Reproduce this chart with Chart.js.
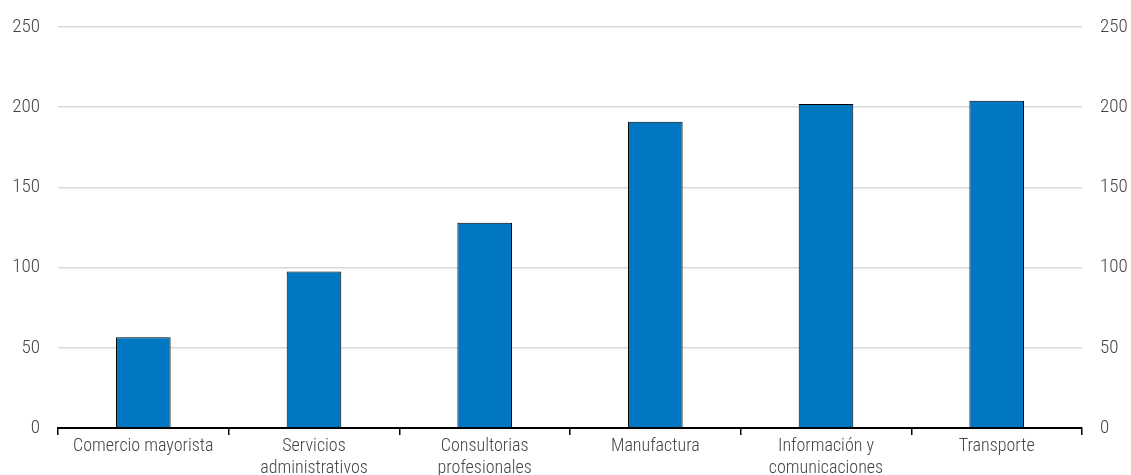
<!DOCTYPE html>
<html>
<head>
<meta charset="utf-8">
<script src="https://cdn.jsdelivr.net/npm/chart.js@4"></script>
<style>
  html, body { margin: 0; padding: 0; background: #fff; }
  #wrap { width: 1131px; height: 475px; position: relative; }
</style>
</head>
<body>
<div id="wrap"><canvas id="chart"></canvas></div>
<script>
// ── Data ─────────────────────────────────
const categories = [
  'Comercio mayorista',
  ['Servicios', 'administrativos'],
  ['Consultorias', 'profesionales'],
  'Manufactura',
  ['Información y', 'comunicaciones'],
  'Transporte',
];
const values = [56.5, 97.5, 128, 191, 202, 204];
const yTicks = [0, 50, 100, 150, 200, 250];

const FONT = "'Roboto Condensed', 'Liberation Sans Narrow', 'Arial Narrow', sans-serif";
const TEXT = '#444';

Chart.defaults.font.family = FONT;
Chart.defaults.font.size = 18;
Chart.defaults.font.weight = 300;
Chart.defaults.color = TEXT;

// fixed axis sizes so the plot area lines up with the reference
const fitY = width => axis => {
  axis.width = width;
  axis.paddingTop = 0;
  axis.paddingBottom = 0;
};

const yCommon = {
  min: 0,
  max: 250,
  afterBuildTicks: axis => { axis.ticks = yTicks.map(v => ({ value: v })); },
  border: { display: false },
  ticks: { padding: 18, font: { size: 19, weight: 300 }, color: TEXT },
};

new Chart(document.getElementById('chart'), {
  type: 'bar',
  data: {
    labels: categories,
    datasets: [{
      data: values,
      backgroundColor: '#0077c0',
      borderColor: '#000',
      borderWidth: 1,
      barPercentage: 0.32,
      categoryPercentage: 1,
      yAxisID: 'y',
    }],
  },
  options: {
    responsive: true,
    maintainAspectRatio: false,
    animation: false,
    layout: { padding: { top: 27, right: 0, bottom: 0, left: 0 } },
    plugins: { legend: { display: false }, tooltip: { enabled: false } },
    scales: {
      x: {
        offset: true,
        grid: {
          offset: true,
          drawOnChartArea: false,
          drawTicks: true,
          tickLength: 7,
          color: '#000',
          lineWidth: 1.5,
        },
        border: { display: true, color: '#000', width: 2 },
        ticks: { padding: 0, maxRotation: 0, autoSkip: false, color: TEXT, font: { size: 18, weight: 300, lineHeight: 1.25 } },
        afterFit: axis => { axis.height = 47; },
      },
      y: {
        ...yCommon,
        position: 'left',
        grid: { color: '#d9d9d9', lineWidth: 1.5, drawTicks: false },
        afterFit: fitY(58),
      },
      y2: {
        ...yCommon,
        position: 'right',
        grid: { display: false, drawTicks: false },
        afterFit: fitY(49),
      },
    },
  },
});
</script>
</body>
</html>
